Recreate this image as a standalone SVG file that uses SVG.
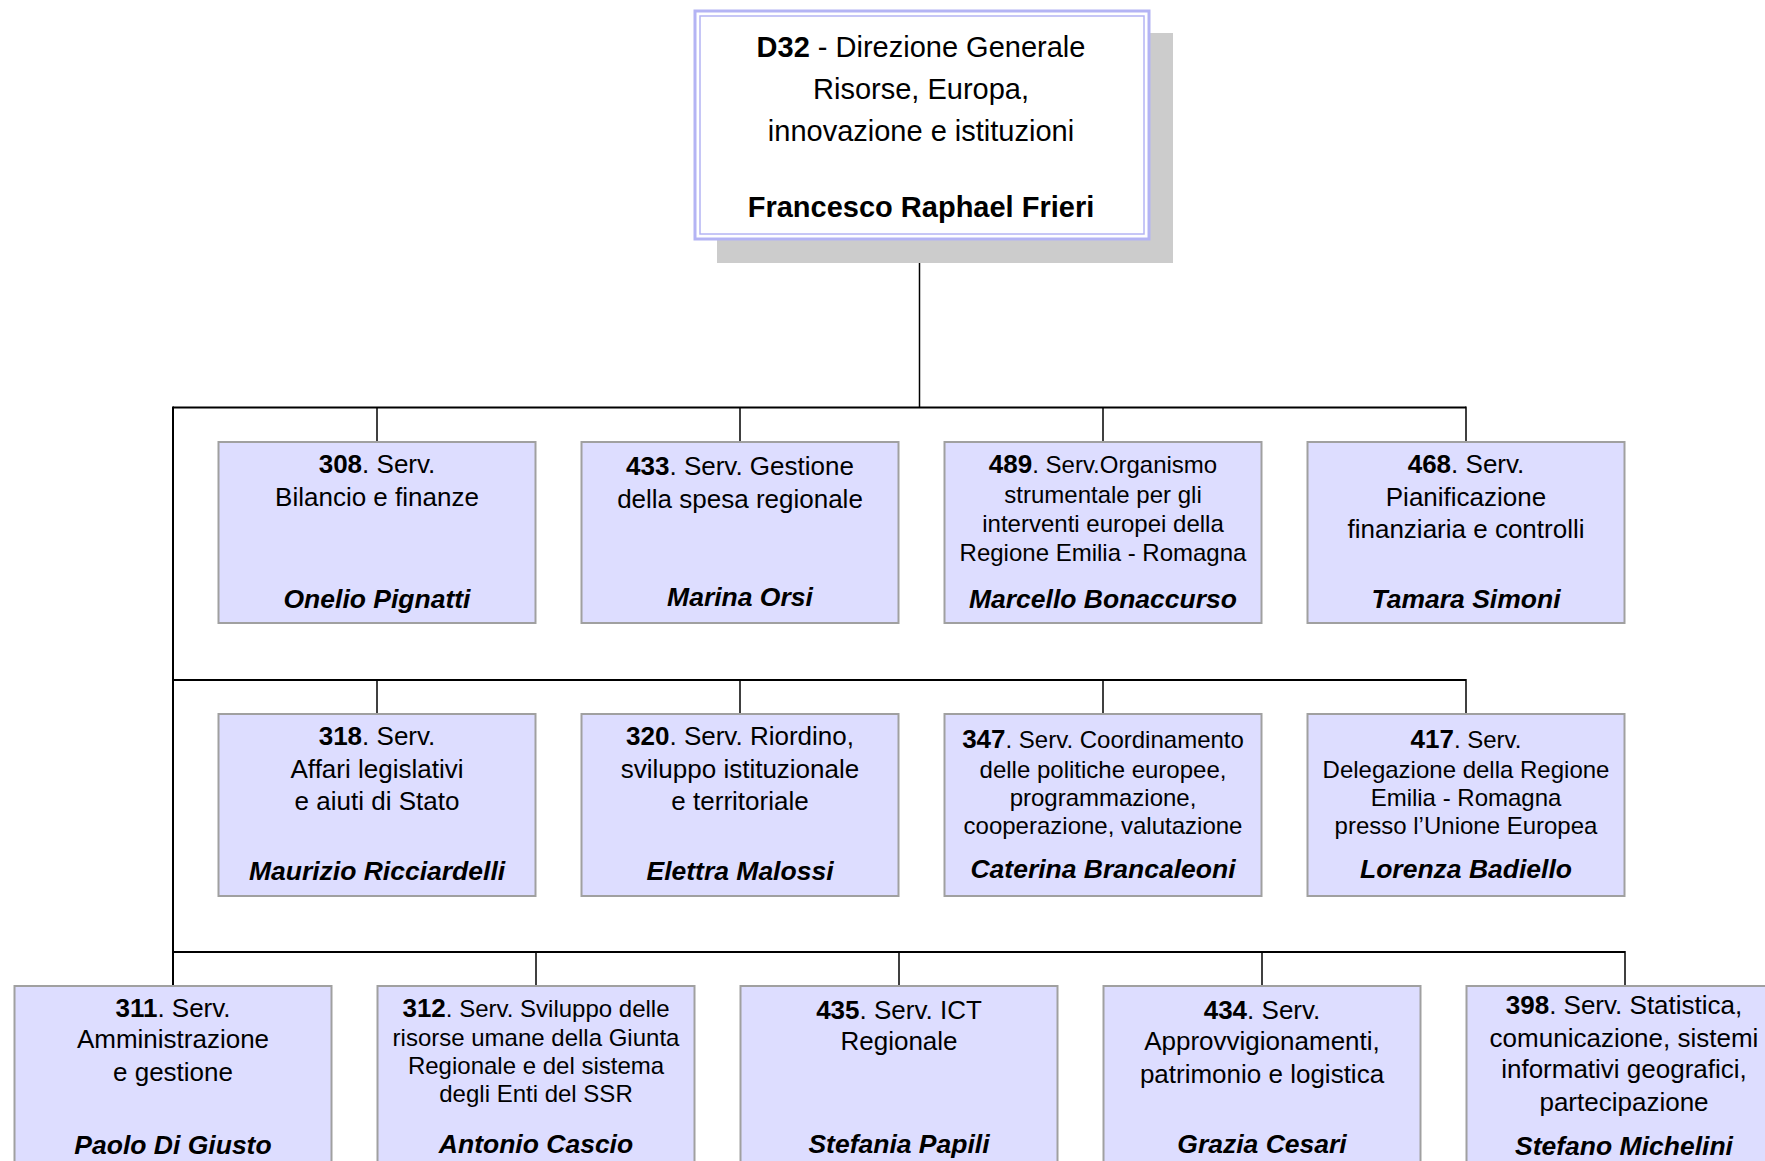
<svg xmlns="http://www.w3.org/2000/svg" width="1765" height="1161" viewBox="0 0 1765 1161">
<style>
  text { font-family: "Liberation Sans", Arial, sans-serif; fill: #000; text-anchor: middle; }
  .t26 { font-size: 26px; }
  .t24 { font-size: 24px; }
  .top { font-size: 29px; }
  .b { font-weight: bold; }
  .nm { font-size: 26.5px; font-weight: bold; font-style: italic; }
  .box { fill: #ddddff; stroke: #a0a0a0; stroke-width: 2; }
  .bus { stroke: #000; stroke-width: 2; fill: none; }
  .drop { stroke: #000; stroke-width: 1.5; fill: none; }
</style>
<rect width="1765" height="1161" fill="#ffffff"/>

<g id="connectors">
  <line class="drop" x1="919.5" y1="239" x2="919.5" y2="407.5"/>
  <line class="bus" x1="173" y1="407.5" x2="1466" y2="407.5"/>
  <line class="bus" x1="173" y1="406.5" x2="173" y2="986"/>
  <line class="drop" x1="377" y1="407.5" x2="377" y2="442"/>
  <line class="drop" x1="740" y1="407.5" x2="740" y2="442"/>
  <line class="drop" x1="1103" y1="407.5" x2="1103" y2="442"/>
  <line class="drop" x1="1466" y1="406.5" x2="1466" y2="442"/>
  <line class="bus" x1="173" y1="680" x2="1466" y2="680"/>
  <line class="drop" x1="377" y1="680" x2="377" y2="714"/>
  <line class="drop" x1="740" y1="680" x2="740" y2="714"/>
  <line class="drop" x1="1103" y1="680" x2="1103" y2="714"/>
  <line class="drop" x1="1466" y1="679" x2="1466" y2="714"/>
  <line class="bus" x1="173" y1="952" x2="1625" y2="952"/>
  <line class="drop" x1="536" y1="952" x2="536" y2="986"/>
  <line class="drop" x1="899" y1="952" x2="899" y2="986"/>
  <line class="drop" x1="1262" y1="952" x2="1262" y2="986"/>
  <line class="drop" x1="1625" y1="951" x2="1625" y2="986"/>
</g>

<g id="d32">
  <rect x="717" y="33" width="456" height="230" fill="#cccccc"/>
  <rect x="695" y="11" width="454" height="228" fill="#ffffff" stroke="#b4b4f4" stroke-width="3"/>
  <rect x="700" y="16" width="444" height="218" fill="none" stroke="#b4b4f4" stroke-width="1.5"/>
  <text class="top" x="921" y="57"><tspan class="b">D32</tspan> - Direzione Generale</text>
  <text class="top" x="921" y="99">Risorse, Europa,</text>
  <text class="top" x="921" y="141">innovazione e istituzioni</text>
  <text class="top b" x="921" y="217">Francesco Raphael Frieri</text>
</g>

<g id="s308">
  <rect class="box" x="218.5" y="442" width="317" height="181"/>
  <text class="t26" x="377" y="473"><tspan class="b">308</tspan>. Serv.</text>
  <text class="t26" x="377" y="506">Bilancio e finanze</text>
  <text class="nm" x="377" y="608">Onelio Pignatti</text>
</g>
<g id="s433">
  <rect class="box" x="581.5" y="442" width="317" height="181"/>
  <text class="t26" x="740" y="475"><tspan class="b">433</tspan>. Serv. Gestione</text>
  <text class="t26" x="740" y="508">della spesa regionale</text>
  <text class="nm" x="740" y="606">Marina Orsi</text>
</g>
<g id="s489">
  <rect class="box" x="944.5" y="442" width="317" height="181"/>
  <text class="t24" x="1103" y="473"><tspan class="b" style="font-size:26px">489</tspan>. Serv.Organismo</text>
  <text class="t24" x="1103" y="503">strumentale per gli</text>
  <text class="t24" x="1103" y="532">interventi europei della</text>
  <text class="t24" x="1103" y="561">Regione Emilia - Romagna</text>
  <text class="nm" x="1103" y="608">Marcello Bonaccurso</text>
</g>
<g id="s468">
  <rect class="box" x="1307.5" y="442" width="317" height="181"/>
  <text class="t26" x="1466" y="473"><tspan class="b">468</tspan>. Serv.</text>
  <text class="t26" x="1466" y="506">Pianificazione</text>
  <text class="t26" x="1466" y="538">finanziaria e controlli</text>
  <text class="nm" x="1466" y="608">Tamara Simoni</text>
</g>

<g id="s318">
  <rect class="box" x="218.5" y="714" width="317" height="182"/>
  <text class="t26" x="377" y="745"><tspan class="b">318</tspan>. Serv.</text>
  <text class="t26" x="377" y="778">Affari legislativi</text>
  <text class="t26" x="377" y="810">e aiuti di Stato</text>
  <text class="nm" x="377" y="880">Maurizio Ricciardelli</text>
</g>
<g id="s320">
  <rect class="box" x="581.5" y="714" width="317" height="182"/>
  <text class="t26" x="740" y="745"><tspan class="b">320</tspan>. Serv. Riordino,</text>
  <text class="t26" x="740" y="778">sviluppo istituzionale</text>
  <text class="t26" x="740" y="810">e territoriale</text>
  <text class="nm" x="740" y="880">Elettra Malossi</text>
</g>
<g id="s347">
  <rect class="box" x="944.5" y="714" width="317" height="182"/>
  <text class="t24" x="1103" y="748"><tspan class="b" style="font-size:26px">347</tspan>. Serv. Coordinamento</text>
  <text class="t24" x="1103" y="778">delle politiche europee,</text>
  <text class="t24" x="1103" y="806">programmazione,</text>
  <text class="t24" x="1103" y="834">cooperazione, valutazione</text>
  <text class="nm" x="1103" y="878">Caterina Brancaleoni</text>
</g>
<g id="s417">
  <rect class="box" x="1307.5" y="714" width="317" height="182"/>
  <text class="t24" x="1466" y="748"><tspan class="b" style="font-size:26px">417</tspan>. Serv.</text>
  <text class="t24" x="1466" y="778">Delegazione della Regione</text>
  <text class="t24" x="1466" y="806">Emilia - Romagna</text>
  <text class="t24" x="1466" y="834">presso l’Unione Europea</text>
  <text class="nm" x="1466" y="878">Lorenza Badiello</text>
</g>

<g id="s311">
  <rect class="box" x="14.5" y="986" width="317" height="190"/>
  <text class="t26" x="173" y="1017"><tspan class="b">311</tspan>. Serv.</text>
  <text class="t26" x="173" y="1048">Amministrazione</text>
  <text class="t26" x="173" y="1081">e gestione</text>
  <text class="nm" x="173" y="1154">Paolo Di Giusto</text>
</g>
<g id="s312">
  <rect class="box" x="377.5" y="986" width="317" height="190"/>
  <text class="t24" x="536" y="1017"><tspan class="b" style="font-size:26px">312</tspan>. Serv. Sviluppo delle</text>
  <text class="t24" x="536" y="1046">risorse umane della Giunta</text>
  <text class="t24" x="536" y="1074">Regionale e del sistema</text>
  <text class="t24" x="536" y="1102">degli Enti del SSR</text>
  <text class="nm" x="536" y="1153">Antonio Cascio</text>
</g>
<g id="s435">
  <rect class="box" x="740.5" y="986" width="317" height="190"/>
  <text class="t26" x="899" y="1019"><tspan class="b">435</tspan>. Serv. ICT</text>
  <text class="t26" x="899" y="1050">Regionale</text>
  <text class="nm" x="899" y="1153">Stefania Papili</text>
</g>
<g id="s434">
  <rect class="box" x="1103.5" y="986" width="317" height="190"/>
  <text class="t26" x="1262" y="1019"><tspan class="b">434</tspan>. Serv.</text>
  <text class="t26" x="1262" y="1050">Approvvigionamenti,</text>
  <text class="t26" x="1262" y="1083">patrimonio e logistica</text>
  <text class="nm" x="1262" y="1153">Grazia Cesari</text>
</g>
<g id="s398">
  <rect class="box" x="1466.5" y="986" width="317" height="190"/>
  <text class="t26" x="1624" y="1014"><tspan class="b">398</tspan>. Serv. Statistica,</text>
  <text class="t26" x="1624" y="1047">comunicazione, sistemi</text>
  <text class="t26" x="1624" y="1078">informativi geografici,</text>
  <text class="t26" x="1624" y="1111">partecipazione</text>
  <text class="nm" x="1624" y="1155">Stefano Michelini</text>
</g>
</svg>
